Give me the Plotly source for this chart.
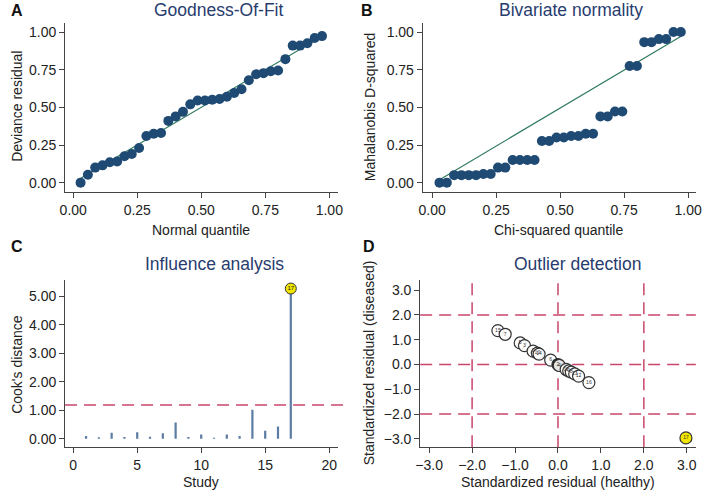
import plotly.graph_objects as go

# ---------------- data ----------------
# Panel A: Goodness-of-fit (normal quantile vs deviance residual)
gof_x = [i / 35 for i in range(1, 35)]
gof_y = [0.00, 0.053, 0.10, 0.115, 0.135, 0.14, 0.175, 0.19, 0.23, 0.31,
         0.325, 0.33, 0.41, 0.44, 0.47, 0.52, 0.545, 0.545, 0.55, 0.555,
         0.57, 0.595, 0.62, 0.68, 0.72, 0.727, 0.74, 0.745, 0.82, 0.91,
         0.91, 0.925, 0.96, 0.973]
gof_fit_x = [0.029, 0.971]
gof_fit_y = [0.029, 0.971]

# Panel B: Bivariate normality (chi-squared quantile vs Mahalanobis D^2)
biv_x = [i / 35 for i in range(1, 35)]
biv_y = [0.00, 0.00, 0.05, 0.05, 0.05, 0.05, 0.057, 0.057, 0.10, 0.10,
         0.15, 0.15, 0.15, 0.15, 0.277, 0.277, 0.30, 0.30, 0.31, 0.31,
         0.325, 0.325, 0.44, 0.44, 0.472, 0.472, 0.774, 0.774, 0.933, 0.933,
         0.953, 0.953, 1.00, 1.00]
biv_fit_x = [0.029, 0.971]
biv_fit_y = [0.02, 0.97]

# Panel C: Influence analysis (Cook's distance per study)
studies = list(range(1, 18))
cooks_d = [0.10, 0.05, 0.21, 0.06, 0.23, 0.07, 0.19, 0.57, 0.06, 0.15,
           0.035, 0.15, 0.10, 1.02, 0.28, 0.43, 5.27]
cooks_threshold = 1.18
influential_study = 17

# Panel D: Outlier detection (standardized residuals)
out_labels = ["15", "7", "5", "3", "1", "10", "14", "6", "2", "4",
              "11", "9", "8", "13", "12", "16", "17"]
out_healthy = [-1.40, -1.23, -0.88, -0.78, -0.58, -0.48, -0.44, -0.17, 0.00, 0.03,
               0.19, 0.25, 0.31, 0.39, 0.48, 0.72, 2.98]
out_diseased = [1.37, 1.22, 0.87, 0.76, 0.54, 0.46, 0.42, 0.18, 0.00, -0.04,
                -0.20, -0.26, -0.31, -0.38, -0.47, -0.73, -2.96]
out_ref_lines = [-2.0, 0.0, 2.0]

# ---------------- style ----------------
W, H = 709, 492
FONT = "Liberation Sans, Arial, sans-serif"
NAVY = "#1f4a74"
GREEN = "#2f7a5c"
STEM = "#5b7ca3"
RED = "#c9456b"
TITLE_C = "#283c6e"
AX_C = "#444444"
TXT_C = "#222222"


def px_x(p):
    return p / W


def px_y(p):
    return 1 - p / H


fig = go.Figure()

# A
fig.add_trace(go.Scatter(x=gof_fit_x, y=gof_fit_y, mode="lines",
                         line=dict(color=GREEN, width=1.2), xaxis="x", yaxis="y",
                         showlegend=False, hoverinfo="skip"))
fig.add_trace(go.Scatter(x=gof_x, y=gof_y, mode="markers",
                         marker=dict(color=NAVY, size=10, line=dict(width=0)),
                         xaxis="x", yaxis="y", showlegend=False))
# B
fig.add_trace(go.Scatter(x=biv_fit_x, y=biv_fit_y, mode="lines",
                         line=dict(color=GREEN, width=1.2), xaxis="x2", yaxis="y2",
                         showlegend=False, hoverinfo="skip"))
fig.add_trace(go.Scatter(x=biv_x, y=biv_y, mode="markers",
                         marker=dict(color=NAVY, size=10, line=dict(width=0)),
                         xaxis="x2", yaxis="y2", showlegend=False))

# C stems
stem_x, stem_y = [], []
for s, d in zip(studies, cooks_d):
    stem_x += [s, s, None]
    stem_y += [0, d, None]
fig.add_trace(go.Scatter(x=stem_x, y=stem_y, mode="lines",
                         line=dict(color=STEM, width=2.2), xaxis="x3", yaxis="y3",
                         showlegend=False, hoverinfo="skip"))
fig.add_shape(type="line", xref="x3 domain", yref="y3", x0=0, x1=1.02,
              y0=cooks_threshold, y1=cooks_threshold,
              line=dict(color=RED, width=1.5, dash="12px,7px"), layer="below")
idx = studies.index(influential_study)
fig.add_trace(go.Scatter(x=[studies[idx]], y=[cooks_d[idx]], mode="markers+text",
                         text=[str(influential_study)], textposition="middle center",
                         textfont=dict(size=6, color="#222", family=FONT),
                         marker=dict(color="#f2e600", size=11, line=dict(color="#333", width=1)),
                         xaxis="x3", yaxis="y3", showlegend=False))

# D reference lines
for v in out_ref_lines:
    fig.add_shape(type="line", xref="x4", yref="y4 domain", x0=v, x1=v, y0=0, y1=1,
                  line=dict(color=RED, width=1.5, dash="12px,7px"), layer="below")
    fig.add_shape(type="line", xref="x4 domain", yref="y4", x0=0, x1=1, y0=v, y1=v,
                  line=dict(color=RED, width=1.5, dash="12px,7px"), layer="below")

fills = []
for lab in out_labels:
    if lab == "17":
        fills.append("#f2e600")
    elif lab == "2":
        fills.append("#111111")
    else:
        fills.append("rgba(255,255,255,0.9)")
fig.add_trace(go.Scatter(x=out_healthy, y=out_diseased, mode="markers+text",
                         text=out_labels, textposition="middle center",
                         textfont=dict(size=5, color="#333", family=FONT),
                         marker=dict(color=fills, size=12, line=dict(color="#333", width=1.2)),
                         xaxis="x4", yaxis="y4", showlegend=False))


def axis(dom, rng, tickvals, fmt, anchor):
    return dict(domain=dom, range=rng, tickvals=tickvals, tickformat=fmt,
                showgrid=False, zeroline=False, showline=True, linecolor=AX_C,
                linewidth=1, ticks="outside", ticklen=5, tickcolor=AX_C,
                tickfont=dict(size=14, color=TXT_C, family=FONT), anchor=anchor)


top_y = [px_y(191.7), px_y(23)]
bot_y = [px_y(447.3), px_y(280)]
left_x = [px_x(61), px_x(338)]
right_x = [px_x(424.3), px_x(701.7)]
right_xd = [px_x(421.7), px_x(701.7)]

q = [0, 0.25, 0.5, 0.75, 1.0]
fig.update_layout(
    width=W, height=H, margin=dict(l=0, r=0, t=0, b=0),
    paper_bgcolor="white", plot_bgcolor="white",
    font=dict(family=FONT, color=TXT_C),
    xaxis=axis(left_x, [-0.032, 1.033], q, ".2f", "y"),
    yaxis=axis(top_y, [-0.06, 1.06], q, ".2f", "x"),
    xaxis2=axis(right_x, [-0.037, 1.030], q, ".2f", "y2"),
    yaxis2=axis(top_y, [-0.06, 1.06], q, ".2f", "x2"),
    xaxis3=axis(left_x, [-0.64, 20.67], [0, 5, 10, 15, 20], "d", "y3"),
    yaxis3=axis(bot_y, [-0.3, 5.57], [0, 1, 2, 3, 4, 5], ".2f", "x3"),
    xaxis4=axis(right_xd, [-3.21, 3.21], [-3, -2, -1, 0, 1, 2, 3], ".1f", "y4"),
    yaxis4=axis(bot_y, [-3.34, 3.41], [-3, -2, -1, 0, 1, 2, 3], ".1f", "x4"),
)

ann = []


def add_text(text, x, y, size, color=TXT_C, angle=0, bold=False):
    t = f"<b>{text}</b>" if bold else text
    ann.append(dict(text=t, x=px_x(x), y=px_y(y), xref="paper", yref="paper",
                    showarrow=False, textangle=angle, xanchor="center", yanchor="middle",
                    font=dict(size=size, color=color, family=FONT)))


# panel letters
add_text("A", 12, 11, 16, "#111", bold=True)
add_text("B", 368, 11, 16, "#111", bold=True)
add_text("C", 12, 246, 16, "#111", bold=True)
add_text("D", 370, 246, 16, "#111", bold=True)
# titles
add_text("Goodness-Of-Fit", 217, 10, 17.5, TITLE_C)
add_text("Bivariate normality", 575, 10, 17.5, TITLE_C)
add_text("Influence analysis", 213, 264, 17.5, TITLE_C)
add_text("Outlier detection", 582, 264, 17.5, TITLE_C)
# axis titles
add_text("Normal quantile", 199, 230, 14)
add_text("Deviance residual", 12, 106, 14, angle=-90)
add_text("Chi-squared quantile", 562, 230, 14)
add_text("Mahalanobis D-squared", 371, 107, 14, angle=-90)
add_text("Study", 199, 482, 14)
add_text("Cook's distance", 12, 364, 14, angle=-90)
add_text("Standardized residual (healthy)", 562, 482, 14)
add_text("Standardized residual (diseased)", 370, 363, 14, angle=-90)

fig.update_layout(annotations=ann)
fig.write_html("out.html", config={"displayModeBar": False},
               post_script="document.body.style.margin='0';document.body.style.padding='0';")
